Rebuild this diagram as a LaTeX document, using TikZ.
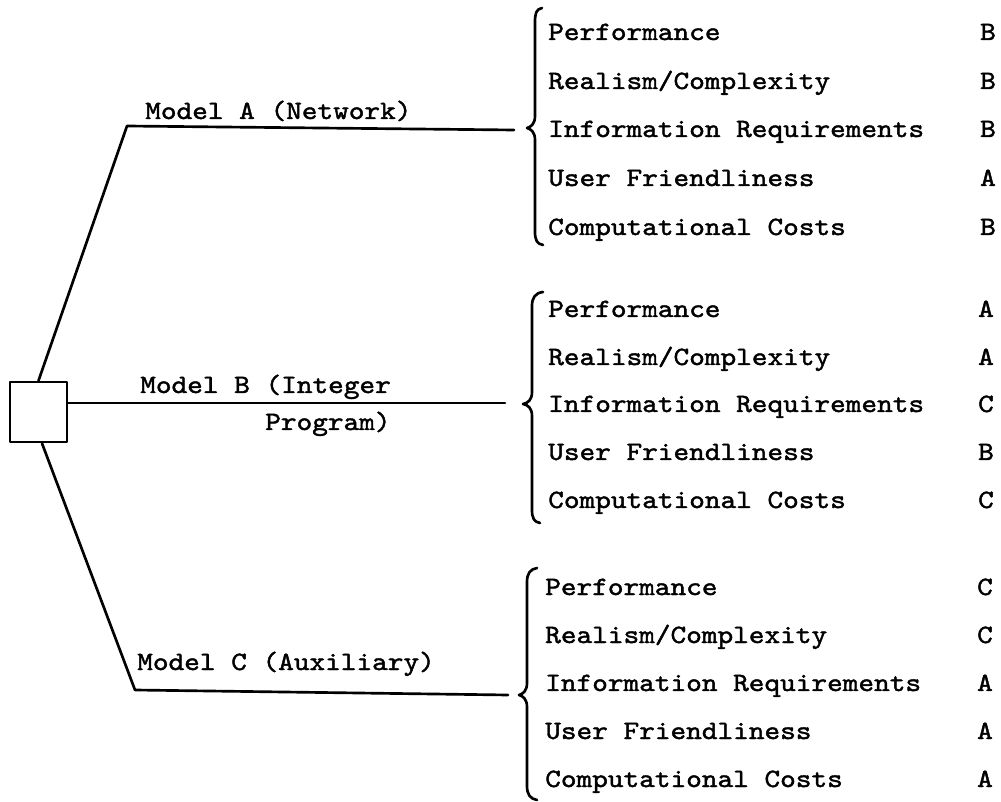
\documentclass[tikz,border=0pt]{standalone}
\usepackage{fontspec}
\newfontfamily\tw{lmmono10-regular.otf}[FakeStretch=1.13, FakeBold=1.6]
\begin{document}
\begin{tikzpicture}[x=0.75pt,y=-0.75pt,
  ln/.style={line width=2pt, line cap=round, line join=round},
  txt/.style={font=\tw\fontsize{19.8pt}{22pt}\selectfont, inner sep=0pt, anchor=base west},
  grade/.style={font=\tw\fontsize{19.8pt}{22pt}\selectfont, inner sep=0pt, anchor=base}]
\useasboundingbox (0,0) rectangle (1001,802);
% decision box
\node[draw, ln, minimum width=57*0.75pt, minimum height=60*0.75pt, inner sep=0pt] (root) at (38.5,412) {};
% corner / end coordinates
\coordinate (aTurn) at (127,126);
\coordinate (aEnd) at (514,130);
\coordinate (bEnd) at (505,403);
\coordinate (cTurn) at (135,690);
\coordinate (cEnd) at (508,695);
\draw[ln] (root.north) -- (aTurn) -- (aEnd);
\draw[ln] (root.east |- bEnd) -- (bEnd);
\draw[ln] ([xshift=3.5*0.75pt]root.south) -- (cTurn) -- (cEnd);
% labels
\node[txt] (la) at (145,119) {Model A (Network)};
\node[txt] (lb1) at (140,393) {Model B (Integer};
\node[txt] (lb2) at (265,430) {Program)};
\node[txt] (lc) at (137,670) {Model C (Auxiliary)};
% braces
\draw[ln] (542,8) .. controls (536,9) and (535,14) .. (535,22) -- (535,116) .. controls (535,124) and (531,127) .. (527,128)
  .. controls (531,129) and (535,132) .. (535,140) -- (535,232) .. controls (535,240) and (537,244) .. (543,245);
\draw[ln] (543,292) .. controls (535,293) and (532,298) .. (532,306) -- (532,392) .. controls (532,400) and (528,403) .. (523,404)
  .. controls (528,405) and (532,408) .. (532,416) -- (532,510) .. controls (532,518) and (534,522) .. (540,523);
\draw[ln] (537,568) .. controls (530,569) and (527,574) .. (527,582) -- (527,683) .. controls (527,691) and (523,694) .. (519,695)
  .. controls (523,696) and (527,699) .. (527,707) -- (527,786) .. controls (527,794) and (530,799) .. (537,800);
% criteria A
\node[txt] (a1) at (548,40) {Performance};
\node[txt] (a2) at (548,89) {Realism/Complexity};
\node[txt] (a3) at (548,137) {Information Requirements};
\node[txt] (a4) at (548,186) {User Friendliness};
\node[txt] (a5) at (548,235) {Computational Costs};
\node[grade] (ga1) at (988,40) {B};
\node[grade] (ga2) at (988,89) {B};
\node[grade] (ga3) at (988,137) {B};
\node[grade] (ga4) at (988,186) {A};
\node[grade] (ga5) at (988,235) {B};
% criteria B
\node[txt] (b1) at (548,317) {Performance};
\node[txt] (b2) at (548,365) {Realism/Complexity};
\node[txt] (b3) at (548,412) {Information Requirements};
\node[txt] (b4) at (548,460) {User Friendliness};
\node[txt] (b5) at (548,508) {Computational Costs};
\node[grade] (gb1) at (986,317) {A};
\node[grade] (gb2) at (986,365) {A};
\node[grade] (gb3) at (986,412) {C};
\node[grade] (gb4) at (986,460) {B};
\node[grade] (gb5) at (986,508) {C};
% criteria C
\node[txt] (c1) at (545,595) {Performance};
\node[txt] (c2) at (545,643) {Realism/Complexity};
\node[txt] (c3) at (545,691) {Information Requirements};
\node[txt] (c4) at (545,739) {User Friendliness};
\node[txt] (c5) at (545,787) {Computational Costs};
\node[grade] (gc1) at (985,595) {C};
\node[grade] (gc2) at (985,643) {C};
\node[grade] (gc3) at (985,691) {A};
\node[grade] (gc4) at (985,739) {A};
\node[grade] (gc5) at (985,787) {A};
\end{tikzpicture}
\end{document}
